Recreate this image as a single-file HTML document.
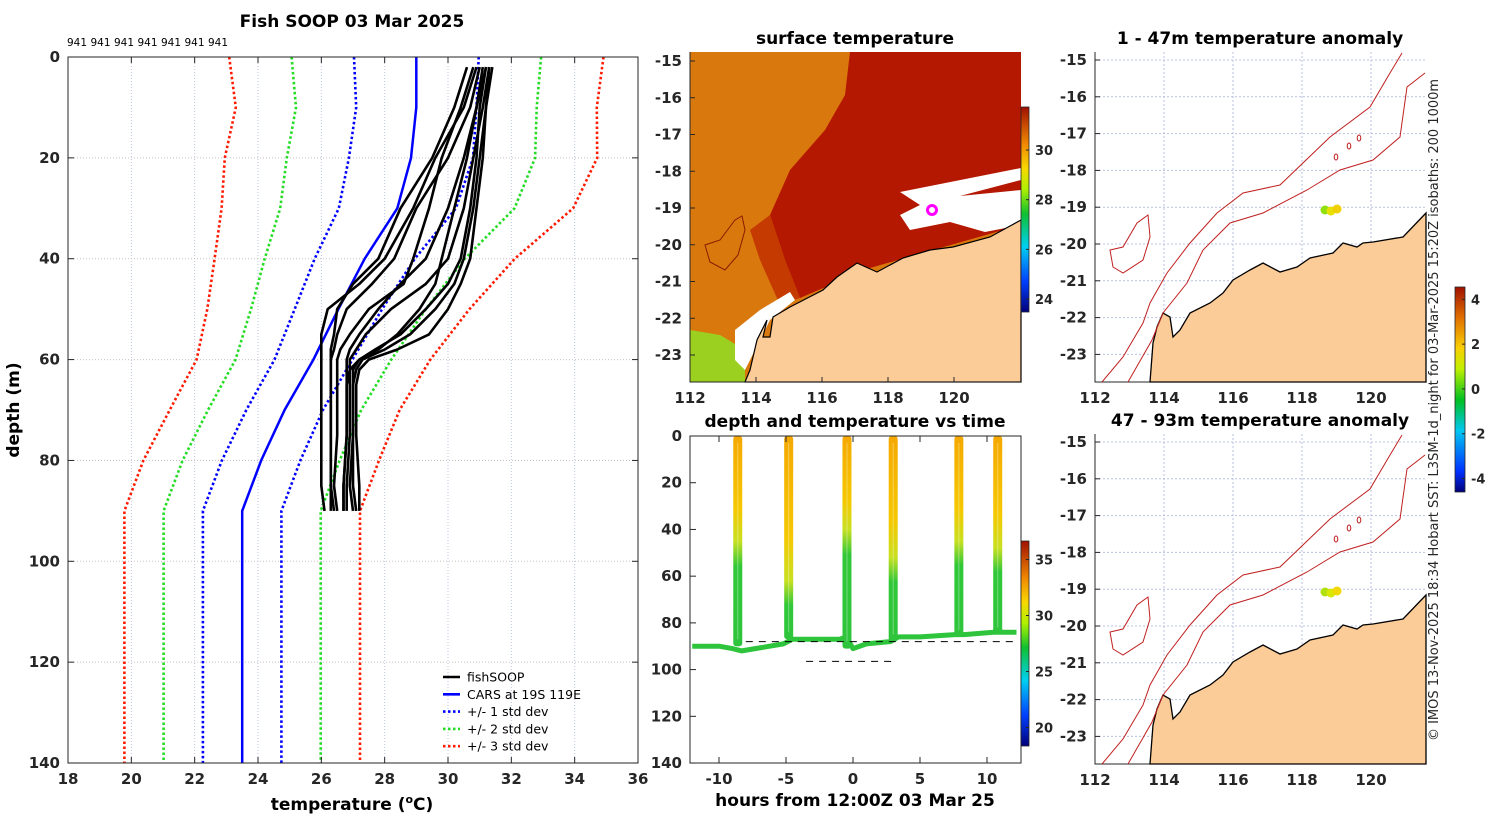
<!DOCTYPE html>
<html><head><meta charset="utf-8"><style>
html,body{margin:0;padding:0;background:#fff;}
svg{display:block;font-family:"DejaVu Sans","Liberation Sans",sans-serif;}
.tk{font-size:15px;font-weight:bold;fill:#262626;}
.tt{font-size:17px;font-weight:bold;fill:#000;}
</style></head><body>
<svg id="fig" width="1500" height="820" viewBox="0 0 1500 820" xmlns="http://www.w3.org/2000/svg">
<defs>
<linearGradient id="jet" x1="0" y1="1" x2="0" y2="0">
<stop offset="0" stop-color="#00007a"/><stop offset="0.15" stop-color="#0040ff"/><stop offset="0.32" stop-color="#00d0f0"/><stop offset="0.48" stop-color="#10c030"/><stop offset="0.6" stop-color="#b0f000"/><stop offset="0.7" stop-color="#f8d800"/><stop offset="0.82" stop-color="#f08800"/><stop offset="1" stop-color="#a01000"/>
</linearGradient>
<linearGradient id="anom" x1="0" y1="1" x2="0" y2="0">
<stop offset="0" stop-color="#00007a"/><stop offset="0.1" stop-color="#0030ff"/><stop offset="0.3" stop-color="#00c8f0"/><stop offset="0.45" stop-color="#00c020"/><stop offset="0.6" stop-color="#c0f000"/><stop offset="0.7" stop-color="#f8d000"/><stop offset="0.85" stop-color="#e07000"/><stop offset="1" stop-color="#a01000"/>
</linearGradient>
</defs>
<g id="left"></g>
<g id="sst"></g>
<g id="dt"></g>
<g id="an1"></g>
<g id="an2" transform="translate(0,382)"></g>
<text class="tk" x="1438" y="410" transform="rotate(-90 1438 410)" text-anchor="middle" style="font-weight:normal;font-size:13px">© IMOS 13-Nov-2025 18:34 Hobart SST: L3SM-1d_night for 03-Mar-2025 15:20Z isobaths: 200  1000m</text>
</svg>
<script>
// ---- data: profile chart ----
const stdDepths=[0,10,20,30,40,50,60,70,80,90,140];
const carsMean=[29.0,29.0,28.83,28.4,27.37,26.54,25.75,24.84,24.1,23.5,23.5];
const carsSd=[1.97,1.9,1.96,1.85,1.58,1.38,1.23,1.21,1.24,1.24,1.24];
const profDepths=[2,10,20,30,40,45,50,55,58,60,62,65,75,85,90];
const prof1=[30.9,30.5,29.6,28.9,28.0,27.2,26.2,26.0,26.0,26.0,26.0,26.0,26.0,26.0,26.1];
const prof2=[31.0,30.7,30.0,29.0,28.3,27.6,26.8,26.5,26.4,26.3,26.3,26.3,26.3,26.3,26.4];
const prof3=[31.2,30.9,30.5,30.0,29.3,28.5,27.8,27.2,26.9,26.8,26.8,26.8,26.8,26.7,26.7];
const prof4=[31.3,31.1,30.8,30.5,30.0,29.3,28.2,27.4,27.1,26.9,26.9,26.9,26.9,26.8,26.8];
const prof5=[31.4,31.2,31.0,30.8,30.5,30.2,29.6,28.8,28.0,27.3,27.1,27.0,27.0,27.0,27.1];
const prof6=[31.2,31.0,30.9,30.7,30.4,30.0,29.3,28.5,27.7,27.2,27.0,27.0,27.0,26.9,27.0];
const prof7=[31.3,31.2,31.1,30.9,30.7,30.4,30.0,29.4,28.4,27.5,27.2,27.1,27.1,27.2,27.2];
const prof8=[30.8,30.4,29.8,29.4,28.9,28.6,27.5,26.9,26.6,26.5,26.5,26.5,26.5,26.4,26.5];
const prof9=[30.6,30.2,29.5,28.5,27.8,27.0,26.5,26.4,26.3,26.3,26.3,26.3,26.3,26.3,26.3];
const prof10=[31.1,30.9,30.6,30.2,29.8,29.6,29.1,28.4,27.8,27.2,26.9,26.8,26.8,26.7,26.7];
const tempTicks=[18,20,22,24,26,28,30,32,34,36];
const depthTicks=[0,20,40,60,80,100,120,140];
// ---- data: depth-time chart ----
const castTimes=[-8.6,-4.8,-0.45,3.0,7.9,10.8];
const castBottoms=[90,87,91,88,86,85];
const castThermo=[45,62,40,52,45,48];
const trackTimes=[-12,-10,-9,-8.3,-5.2,-4.5,-1,-0.5,0,1,2.8,3.4,5,7.6,8.3,10.5,11.2,12.2];
const trackDepths=[90,90,91,92,89,87,87,86,91,89,88,86,86,85,85,84,84,84];
const hourTicks=[-10,-5,0,5,10];
const castDepthTicks=[0,20,40,60,80,100,120,140];
const sstTicks=[24,26,28,30];
const dtTicks=[20,25,30,35];
const anomTicks=[-4,-2,0,2,4];
const lonTicks=[112,114,116,118,120];
const latTicks=[-15,-16,-17,-18,-19,-20,-21,-22,-23];

const NS='http://www.w3.org/2000/svg';
function mk(tag,attrs,parent,txt){const e=document.createElementNS(NS,tag);for(const k in attrs)e.setAttribute(k,attrs[k]);parent.appendChild(e);if(txt!==undefined)e.textContent=txt;return e;}
const pts=a=>a.map(p=>p[0].toFixed(1)+','+p[1].toFixed(1)).join(' ');

// ===== Left profile chart =====
(function(){
const g=document.getElementById('left');
const X=t=>68+(t-18)*31.667, Y=d=>57+d*5.043;
let el;
tempTicks.forEach(t=>{el=mk('line',{x1:X(t),x2:X(t),y1:57,y2:763,stroke:'#b8c4e0','stroke-dasharray':'1,2','stroke-width':1},g);

});
depthTicks.forEach(d=>{el=mk('line',{x1:68,x2:638,y1:Y(d),y2:Y(d),stroke:'#c8c0c0','stroke-dasharray':'1,2','stroke-width':1},g);

});
const sdCols={1:'#0000ff',2:'#22dd22',3:'#ff1a00'};
[1,2,3].forEach(k=>{[-1,1].forEach(s=>{
 el=mk('polyline',{points:pts(stdDepths.map((d,i)=>[X(carsMean[i]+s*k*carsSd[i]),Y(d)])),fill:'none',stroke:sdCols[k],'stroke-width':2.6,'stroke-dasharray':'2.5,2.5'},g);
 
 
});});
el=mk('polyline',{points:pts(stdDepths.map((d,i)=>[X(carsMean[i]),Y(d)])),fill:'none',stroke:'#0000ff','stroke-width':2.5},g);


[prof1,prof2,prof3,prof4,prof5,prof6,prof7,prof8,prof9,prof10].forEach((p,j)=>{
 el=mk('polyline',{points:pts(profDepths.map((d,i)=>[X(p[i]),Y(d)])),fill:'none',stroke:'#000','stroke-width':2.6,'stroke-linejoin':'round'},g);
 
 
});
el=mk('rect',{x:68,y:57,width:570,height:706,fill:'none',stroke:'#262626','stroke-width':1},g);


tempTicks.forEach(t=>{
 mk('line',{x1:X(t),x2:X(t),y1:763,y2:757,stroke:'#262626'},g);mk('line',{x1:X(t),x2:X(t),y1:57,y2:63,stroke:'#262626'},g);
 el=mk('text',{x:X(t),y:784,'text-anchor':'middle',class:'tk'},g,String(t));
 
 });
depthTicks.forEach(d=>{
 mk('line',{x1:68,x2:74,y1:Y(d),y2:Y(d),stroke:'#262626'},g);mk('line',{x1:632,x2:638,y1:Y(d),y2:Y(d),stroke:'#262626'},g);
 el=mk('text',{x:60,y:Y(d)+5,'text-anchor':'end',class:'tk'},g,String(d));
 
 });
for(let i=0;i<7;i++){el=mk('text',{x:77+i*23.5,y:46,'text-anchor':'middle','font-size':'10.5',fill:'#000'},g,'941');
 
 }
el=mk('text',{x:352,y:27,'text-anchor':'middle',class:'tt'},g,'Fish SOOP 03 Mar 2025');


el=mk('text',{x:352,y:810,'text-anchor':'middle',class:'tt'},g);
el.innerHTML='temperature (<tspan font-size="11" dy="-7">o</tspan><tspan dy="7">C)</tspan>';


el=mk('text',{x:19,y:410,'text-anchor':'middle',class:'tt',transform:'rotate(-90 19 410)'},g,'depth (m)');


const leg=[['fishSOOP','#000',''],['CARS at 19S 119E','#0000ff',''],['+/- 1 std dev','#0000ff','2.5,2.5'],['+/- 2 std dev','#22dd22','2.5,2.5'],['+/- 3 std dev','#ff1a00','2.5,2.5']];
leg.forEach((l,i)=>{const y=677+i*17.3;
 el=mk('line',{x1:443,x2:460,y1:y,y2:y,stroke:l[1],'stroke-width':2.6,'stroke-dasharray':l[2]||'none'},g);
 
 
 el=mk('text',{x:467,y:y+4.5,'font-size':'12.5',fill:'#000'},g,l[0]);
 
 });
})();

// ===== shared map helpers =====
function axesMap(g,x0,x1,y0,y1,lonScale,lonX0,lat0Y,latStep,grid){
 let el;
 if(grid){lonTicks.forEach(l=>{const x=lonX0+(l-112)*lonScale;el=mk('line',{x1:x,x2:x,y1:y0,y2:y1,stroke:'#b8c0e0','stroke-dasharray':'2,2'},g);});
 latTicks.forEach(l=>{const y=lat0Y+(-15-l)*latStep;el=mk('line',{x1:x0,x2:x1,y1:y,y2:y,stroke:'#b8c0e0','stroke-dasharray':'2,2'},g);});}
 el=mk('polyline',{points:`${x0},${y0} ${x0},${y1} ${x1},${y1}`,fill:'none',stroke:'#262626'},g);
 
 
 lonTicks.forEach(l=>{const x=lonX0+(l-112)*lonScale;mk('line',{x1:x,x2:x,y1:y1,y2:y1-5,stroke:'#262626'},g);
  el=mk('text',{x:x,y:y1+21,'text-anchor':'middle',class:'tk'},g,String(l));
  
  });
 latTicks.forEach(l=>{const y=lat0Y+(-15-l)*latStep;mk('line',{x1:x0,x2:x0+5,y1:y,y2:y,stroke:'#262626'},g);
  el=mk('text',{x:x0-8,y:y+5,'text-anchor':'end',class:'tk'},g,String(l));
  
  });
}
function colorbar(g,x,y,w,h,grad,ticks,vmin,vmax){
 let el=mk('rect',{x:x,y:y,width:w,height:h,fill:'url(#'+grad+')',stroke:'#262626','stroke-width':0.8},g);
 
 
 ticks.forEach(t=>{const yy=y+h-(t-vmin)/(vmax-vmin)*h;mk('line',{x1:x+w-3,x2:x+w,y1:yy,y2:yy,stroke:'#262626'},g);
  el=mk('text',{x:x+w+6,y:yy+5,class:'tk','font-size':'13'},g,String(t));
  el.style.fontSize='13px';
  
  });
}

// ===== SST map =====
(function(){
const g=document.getElementById('sst');let el;
el=mk('rect',{x:690,y:52,width:331,height:330,fill:'#d9780c'},g);
el=mk('polygon',{points:'850,52 1021,52 1021,225 870,268 800,298 785,260 770,215 790,170 825,130 845,95',fill:'#b51800'},g);
el=mk('polygon',{points:'770,215 785,260 800,298 780,305 760,260 750,230',fill:'#c43a00'},g);
el=mk('polygon',{points:'690,330 720,335 745,350 745,382 690,382',fill:'#9cd020'},g);
el=mk('polygon',{points:'900,192 1021,168 1021,180 960,196 1021,190 1021,225 985,232 950,222 910,230 900,215 920,205',fill:'#fff'},g);
el=mk('polygon',{points:'735,330 760,310 790,292 795,300 770,320 760,340 745,370 735,360',fill:'#fff'},g);
el=mk('polygon',{points:'1021,220 990,237 953,247 930,250 903,258 877,272 857,263 837,277 823,290 790,307 773,317 770,337 763,337 767,320 757,340 750,370 745,382 1021,382',fill:'#fbcb98',stroke:'#000','stroke-width':1.2},g);
el=mk('path',{d:'M742,216 L745,230 738,255 725,270 710,262 705,245 720,240 735,220 Z',fill:'none',stroke:'#8a1a00','stroke-width':1},g);
el=mk('circle',{cx:932,cy:210,r:4.5,fill:'none',stroke:'#ff00ff','stroke-width':3},g);
axesMap(g,690,1021,52,382,33,690,61,36.75,false);
colorbar(g,1021,107,8,205,'jet',sstTicks,23.48,31.73);
el=mk('text',{x:855,y:44,'text-anchor':'middle',class:'tt'},g,'surface temperature');
})();

// ===== depth-time chart =====
(function(){
const g=document.getElementById('dt');let el;
const H=h=>719+(h+10)*13.4, D=d=>436+d*2.336;
const defs=document.querySelector('defs');
el=mk('polyline',{points:pts(trackTimes.map((t,i)=>[H(t),D(trackDepths[i])])),fill:'none',stroke:'#2ec43c','stroke-width':5,'stroke-linejoin':'round'},g);


castTimes.forEach((t,i)=>{
 const id='cg'+i;const lg=mk('linearGradient',{id:id,x1:0,y1:0,x2:0,y2:1},defs);
 const b=castBottoms[i],th=castThermo[i]/b;
 mk('stop',{offset:0,'stop-color':'#f5a800'},lg);mk('stop',{offset:th*0.7,'stop-color':'#f5c800'},lg);
 mk('stop',{offset:th,'stop-color':'#c8e020'},lg);mk('stop',{offset:Math.min(1,th+0.12),'stop-color':'#30c838'},lg);mk('stop',{offset:1,'stop-color':'#2ec43c'},lg);
 el=mk('rect',{x:H(t)-4.5,y:D(0),width:9,height:D(b)-D(0),fill:'url(#'+id+')',rx:3},g);
 
 
 el=mk('rect',{x:H(t)-0.5,y:D(3),width:1,height:D(b)-D(6),fill:'#fff',opacity:0.35},g);
 
 
});
el=mk('line',{x1:H(-8),x2:H(12.3),y1:D(88),y2:D(88),stroke:'#000','stroke-dasharray':'7,6'},g);
el=mk('line',{x1:H(-3.5),x2:H(3.2),y1:D(96.5),y2:D(96.5),stroke:'#000','stroke-dasharray':'7,6'},g);
el=mk('rect',{x:690,y:436,width:331,height:327,fill:'none',stroke:'#262626'},g);
hourTicks.forEach(h=>{mk('line',{x1:H(h),x2:H(h),y1:763,y2:757,stroke:'#262626'},g);mk('line',{x1:H(h),x2:H(h),y1:436,y2:442,stroke:'#262626'},g);
 el=mk('text',{x:H(h),y:784,'text-anchor':'middle',class:'tk'},g,String(h));});
castDepthTicks.forEach(d=>{mk('line',{x1:690,x2:696,y1:D(d),y2:D(d),stroke:'#262626'},g);
 el=mk('text',{x:682,y:D(d)+5,'text-anchor':'end',class:'tk'},g,String(d));});
colorbar(g,1021,541,8,205,'jet',dtTicks,18.35,36.65);
el=mk('text',{x:855,y:427,'text-anchor':'middle',class:'tt'},g,'depth and temperature vs time');
el=mk('text',{x:855,y:806,'text-anchor':'middle',class:'tt'},g,'hours from 12:00Z 03 Mar 25');
})();

// ===== anomaly maps =====
function anomMap(g,title,dotCols){
 let el;
 axesMap(g,1095,1426,52,382,34.5,1095,60,36.8,true);
 el=mk('polygon',{points:'1426,213 1403,237 1373,242 1363,243 1357,247 1343,243 1333,253 1310,258 1297,267 1280,272 1263,263 1250,270 1233,280 1223,293 1210,303 1190,313 1180,330 1173,337 1170,317 1163,313 1157,327 1153,343 1150,382 1426,382',fill:'#fbcb98',stroke:'#000','stroke-width':1.3},g);
 
 el=mk('polyline',{points:'1402,53 1390,73 1370,107 1330,137 1280,185 1243,193 1217,213 1190,243 1167,273 1150,303 1143,323 1123,357 1102,382',fill:'none',stroke:'#c02020','stroke-width':1},g);
 
 el=mk('polyline',{points:'1425,73 1407,87 1400,137 1373,160 1340,170 1307,190 1263,213 1230,223 1203,250 1187,283 1163,313 1152,340 1128,382',fill:'none',stroke:'#c02020','stroke-width':1},g);
 
 el=mk('polygon',{points:'1148,215 1150,237 1143,260 1123,273 1113,267 1110,250 1123,247 1137,223',fill:'none',stroke:'#c02020','stroke-width':1},g);
 
 [[1336,157],[1349,146],[1359,138]].forEach(p=>{el=mk('ellipse',{cx:p[0],cy:p[1],rx:1.8,ry:3,fill:'none',stroke:'#c02020'},g);});
 [[1325,210,dotCols[0]],[1331,211,dotCols[1]],[1337,209,dotCols[2]]].forEach(p=>{el=mk('circle',{cx:p[0],cy:p[1],r:4.5,fill:p[2]},g);});
 el=mk('text',{x:1260,y:44,'text-anchor':'middle',class:'tt'},g,title);
}
anomMap(document.getElementById('an1'),'1 - 47m temperature anomaly',['#90e010','#e8e000','#f0d000']);
anomMap(document.getElementById('an2'),'47 - 93m temperature anomaly',['#b0e010','#d8e800','#f0d800']);
colorbar(document.getElementById('an1'),1455,287,10,205,'anom',anomTicks,-4.6,4.55);
</script>
</body></html>
